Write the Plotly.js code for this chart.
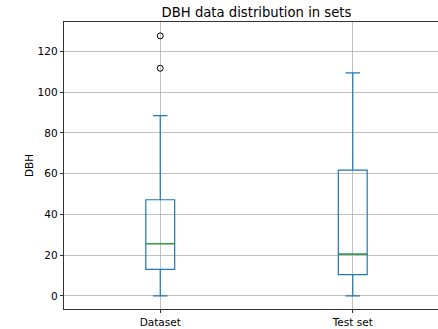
<!DOCTYPE html>
<html>
<head>
<meta charset="utf-8">
<script src="https://cdn.plot.ly/plotly-3.0.1.min.js"></script>
<style>
html, body { margin: 0; padding: 0; overflow: hidden; width: 438px; height: 329px; background: #fff; }
#chart { width: 460px; height: 329px; }
</style>
</head>
<body>
<div id="chart"></div>
<script>
const categories = ["Dataset", "Test set"];
const positions = [1, 2];
const lowerWhisker = [0, 0];
const q1 = [13.0, 10.5];
const median = [25.6, 20.5];
const q3 = [47.2, 61.7];
const upperWhisker = [88.5, 109.4];
const outlierX = [1, 1];
const outlierY = [127.6, 111.7];
const yTicks = [0, 20, 40, 60, 80, 100, 120];

const boxWidth = 0.15;
const medX = [], medY = [];
positions.forEach((p, i) => {
  medX.push(p - boxWidth / 2, p + boxWidth / 2, null);
  medY.push(median[i], median[i], null);
});

const font = { family: "DejaVu Sans, sans-serif", size: 10.5, color: "#000" };

const data = [
  {
    type: "box",
    x: positions,
    q1: q1,
    median: median,
    q3: q3,
    lowerfence: lowerWhisker,
    upperfence: upperWhisker,
    width: boxWidth,
    whiskerwidth: 0.5,
    boxpoints: false,
    line: { color: "#1f77b4", width: 1.2 },
    fillcolor: "rgba(0,0,0,0)",
    hoverinfo: "skip",
    showlegend: false
  },
  {
    type: "scatter",
    mode: "lines",
    x: medX,
    y: medY,
    line: { color: "#2ca02c", width: 1.2 },
    hoverinfo: "skip",
    showlegend: false
  },
  {
    type: "scatter",
    mode: "markers",
    x: outlierX,
    y: outlierY,
    marker: { symbol: "circle-open", size: 6, color: "#000", line: { width: 1, color: "#000" } },
    hoverinfo: "skip",
    showlegend: false
  }
];

const layout = {
  width: 460,
  height: 329,
  margin: { l: 64, r: 11, t: 22, b: 20 },
  paper_bgcolor: "#fff",
  plot_bgcolor: "#fff",
  font: font,
  showlegend: false,
  title: {
    text: "DBH data distribution in sets",
    font: { family: "DejaVu Sans, sans-serif", size: 13.2, color: "#000" },
    x: 0.5, xref: "paper", xanchor: "center",
    y: 1, yref: "paper", yanchor: "bottom", pad: { b: 5 }
  },
  xaxis: {
    range: [0.5, 2.5],
    tickmode: "array",
    tickvals: positions,
    ticktext: categories,
    ticks: "outside", ticklen: 3.5, tickwidth: 0.8, tickcolor: "#000",
    showgrid: true, gridcolor: "#b0b0b0", gridwidth: 0.8,
    zeroline: false,
    showline: true, linecolor: "#000", linewidth: 0.8, mirror: true,
    tickfont: font
  },
  yaxis: {
    range: [-6.4, 134.4],
    tickmode: "array",
    tickvals: yTicks,
    ticks: "outside", ticklen: 3.5, tickwidth: 0.8, tickcolor: "#000",
    showgrid: true, gridcolor: "#b0b0b0", gridwidth: 0.8,
    zeroline: false,
    showline: true, linecolor: "#000", linewidth: 0.8, mirror: true,
    tickfont: font,
    title: { text: "DBH", font: font, standoff: 1 }
  }
};

Plotly.newPlot("chart", data, layout, { displayModeBar: false, staticPlot: true });
</script>
</body>
</html>
